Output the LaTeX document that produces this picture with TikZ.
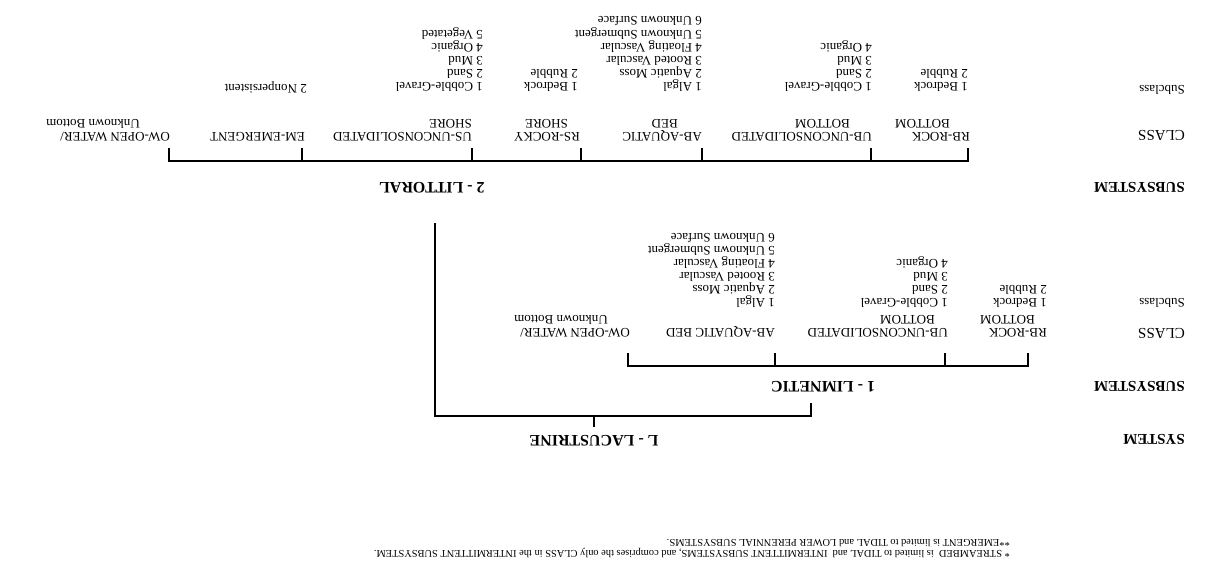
\documentclass[tikz,border=0pt]{standalone}
\usepackage{fontspec}
\setmainfont{Liberation Serif}
\begin{document}
\begin{tikzpicture}[x=1pt, y=1pt, rotate=180, transform shape,
        txt/.style={inner sep=0pt, anchor=west, font=\fontsize{13}{13}\selectfont, text height=9pt, text depth=3pt},
        hdr/.style={inner sep=0pt, font=\bfseries\fontsize{16}{16}\selectfont, text height=11pt, text depth=0pt},
        rowhdr/.style={hdr, anchor=west, font=\bfseries\fontsize{15}{15}\selectfont},
        note/.style={inner sep=0pt, anchor=west, font=\fontsize{10.4}{10.4}\selectfont},
        brk/.style={line width=1.6pt}]
                \useasboundingbox (0,0) rectangle (1225,571);

                \node [txt] (subA) at (40, 88) {Subclass};
                \node [txt, font=\fontsize{15}{15}\selectfont] (clsA) at (40, 133) {CLASS};
                \node [rowhdr] (ssA) at (40, 188) {SUBSYSTEM};
                \node [txt] (subB) at (40, 301) {Subclass};
                \node [txt, font=\fontsize{15}{15}\selectfont] (clsB) at (40, 331) {CLASS};
                \node [rowhdr] (ssB) at (40, 387) {SUBSYSTEM};
                \node [rowhdr] (sys) at (40, 440) {SYSTEM};

                \node [hdr] (lac) at (631, 441) {L - LACUSTRINE};
                \node [hdr] (lit) at (793, 188) {2 - LITTORAL};
                \node [hdr] (lim) at (402, 387) {1 - LIMNETIC};

                \node [note] (fnA) at (215, 553) {* STREAMBED\ \ is limited to TIDAL and\ \ INTERMITTENT SUBSYSTEMS, and comprises the only CLASS in the INTERMITTENT SUBSYSTEM.};
                \node [note] (fnB) at (215, 543) {**EMERGENT is limited to TIDAL and LOWER PERENNIAL SUBSYSTEMS.};

                \coordinate (lacbar) at (631, 416);
                \coordinate (lacR) at (414, 403);
                \coordinate (lacL) at (790, 223);
                \draw [brk, shorten <=8pt] (lac.south) -- (lacbar);
                \draw [brk] (lacR) |- (lacbar) -| (lacL);

                \foreach \u [count=\i] in {257,354,523,644,753,923,1056}{
                    \coordinate (lt\i) at (\u, 148);
                }
                \draw [brk] (lt1) -- ++(0, 13) -| (lt7);
                \foreach \i in {2,...,6}{
                    \draw [brk] (lt\i) -- ++(0, 13);
                }

                \foreach \u [count=\i] in {197,280,450,597}{
                    \coordinate (mt\i) at (\u, 353);
                }
                \draw [brk] (mt1) -- ++(0, 13) -| (mt4);
                \foreach \i in {2,3}{
                    \draw [brk] (mt\i) -- ++(0, 13);
                }

                \node [txt] (litrb) at (255, 135) {RB-ROCK};
                \node [txt] (litrbb) at (275, 122) {BOTTOM};
                \node [txt] (litub) at (353, 135) {UB-UNCONSOLIDATED};
                \node [txt] (litubb) at (375, 122) {BOTTOM};
                \node [txt] (litab) at (523, 135) {AB-AQUATIC};
                \node [txt] (litabb) at (547, 122) {BED};
                \node [txt] (litrs) at (645, 135) {RS-ROCKY};
                \node [txt] (litrsb) at (657, 122) {SHORE};
                \node [txt] (litus) at (753, 135) {US-UNCONSOLIDATED};
                \node [txt] (litusb) at (753, 122) {SHORE};
                \node [txt] (litem) at (920, 135) {EM-EMERGENT};
                \node [txt] (litow) at (1055, 135) {OW-OPEN WATER/};
                \node [txt] (litowb) at (1085, 122) {Unknown Bottom};

                \foreach \s [count=\i] in {1 Bedrock, 2 Rubble}{
                    \node [txt] (litrbs\i) at (257, {99 - 13.2 * \i}) {\s};
                }
                \foreach \s [count=\i] in {1 Cobble-Gravel, 2 Sand, 3 Mud, 4 Organic}{
                    \node [txt] (litubs\i) at (353, {99 - 13.2 * \i}) {\s};
                }
                \foreach \s [count=\i] in {1 Algal, 2 Aquatic Moss, 3 Rooted Vascular, 4 Floating Vascular, 5 Unknown Submergent, 6 Unknown Surface}{
                    \node [txt] (litabs\i) at (523, {99 - 13.2 * \i}) {\s};
                }
                \foreach \s [count=\i] in {1 Bedrock, 2 Rubble}{
                    \node [txt] (litrss\i) at (647, {99 - 13.2 * \i}) {\s};
                }
                \foreach \s [count=\i] in {1 Cobble-Gravel, 2 Sand, 3 Mud, 4 Organic, 5 Vegetated}{
                    \node [txt] (lituss\i) at (742, {99 - 13.2 * \i}) {\s};
                }
                \node [txt] (litems) at (918, 87) {2 Nonpersistent};

                \node [txt] (limrb) at (178, 331) {RB-ROCK};
                \node [txt] (limrbb) at (190, 318) {BOTTOM};
                \node [txt] (limub) at (277, 331) {UB-UNCONSOLIDATED};
                \node [txt] (limubb) at (290, 318) {BOTTOM};
                \node [txt] (limab) at (450, 331) {AB-AQUATIC BED};
                \node [txt] (limow) at (595, 331) {OW-OPEN WATER/};
                \node [txt] (limowb) at (617, 318) {Unknown Bottom};

                \foreach \s [count=\i] in {1 Bedrock, 2 Rubble}{
                    \node [txt] (limrbs\i) at (178, {314 - 13 * \i}) {\s};
                }
                \foreach \s [count=\i] in {1 Cobble-Gravel, 2 Sand, 3 Mud, 4 Organic}{
                    \node [txt] (limubs\i) at (277, {314 - 13 * \i}) {\s};
                }
                \foreach \s [count=\i] in {1 Algal, 2 Aquatic Moss, 3 Rooted Vascular, 4 Floating Vascular, 5 Unknown Submergent, 6 Unknown Surface}{
                    \node [txt] (limabs\i) at (450, {314 - 13 * \i}) {\s};
                }

            \end{tikzpicture}
\end{document}
